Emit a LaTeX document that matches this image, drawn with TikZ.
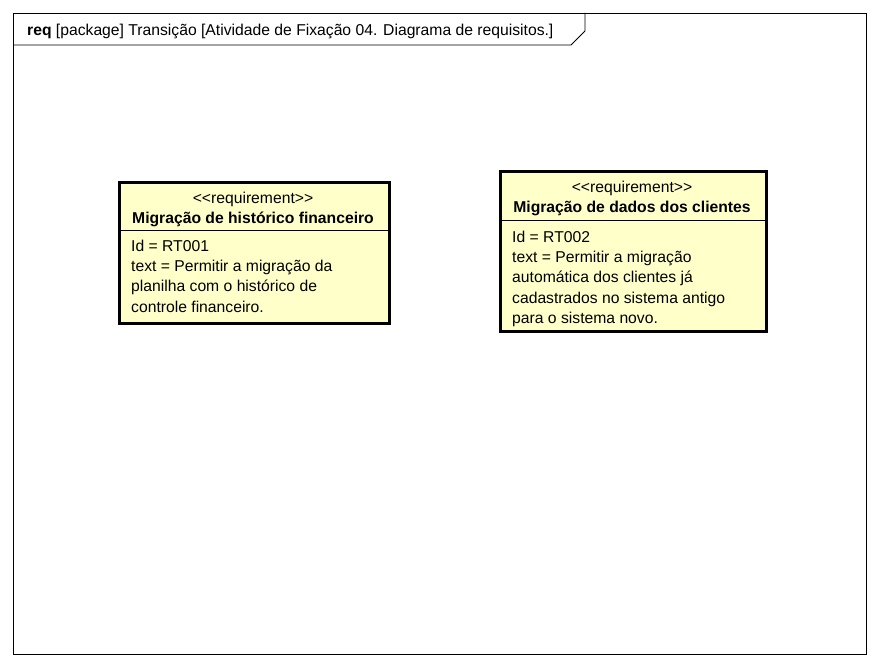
\documentclass[tikz,border=0pt]{standalone}
\usepackage{fontspec}
\setmainfont{Liberation Sans}
\definecolor{reqfill}{RGB}{255,255,202}
\begin{document}
\begin{tikzpicture}[x=1pt,y=-1pt,
	reqbox/.style={draw, line width=2.8pt, fill=reqfill, anchor=north west, inner sep=0pt},
	reqtxt/.style={font=\fontsize{15.7}{20.4}\selectfont, inner sep=0pt},
	reqbody/.style={reqtxt, anchor=north west, align=left}]
	\useasboundingbox (0,0) rectangle (880,666);
	\draw[line width=0.8pt] (13,13) rectangle (866,654);
	\draw[line width=0.8pt] (13,45) -- (571,45) -- (585,31) -- (585,13);
	\node[reqtxt, anchor=base west] (title) at (27,36) {\textbf{req} [package] Transição [Atividade de Fixação 04. Diagrama de requisitos.]};
	% requisito RT001
	\node[reqbox, minimum width=270pt, minimum height=141pt] (rt1) at (118,181) {};
	\draw[line width=0.8pt] ([yshift=-49pt]rt1.north west) -- ([yshift=-49pt]rt1.north east);
	\node[reqtxt] (rt1st) at (253,199) {<{}<requirement>{}>};
	\node[reqtxt, font=\fontsize{15.7}{20.4}\selectfont\bfseries] (rt1name) at (253,219.5) {Migração de histórico financeiro};
	\node[reqbody] (rt1body) at (131,239.5) {Id = RT001\\text = Permitir a migração da\\planilha com o histórico de\\controle financeiro.};
	% requisito RT002
	\node[reqbox, minimum width=266pt, minimum height=160pt] (rt2) at (499,170) {};
	\draw[line width=0.8pt] ([yshift=-50pt]rt2.north west) -- ([yshift=-50pt]rt2.north east);
	\node[reqtxt] (rt2st) at (632,188) {<{}<requirement>{}>};
	\node[reqtxt, font=\fontsize{15.7}{20.4}\selectfont\bfseries] (rt2name) at (632,208.5) {Migração de dados dos clientes};
	\node[reqbody] (rt2body) at (512,230.5) {Id = RT002\\text = Permitir a migração\\automática dos clientes já\\cadastrados no sistema antigo\\para o sistema novo.};
\end{tikzpicture}
\end{document}
